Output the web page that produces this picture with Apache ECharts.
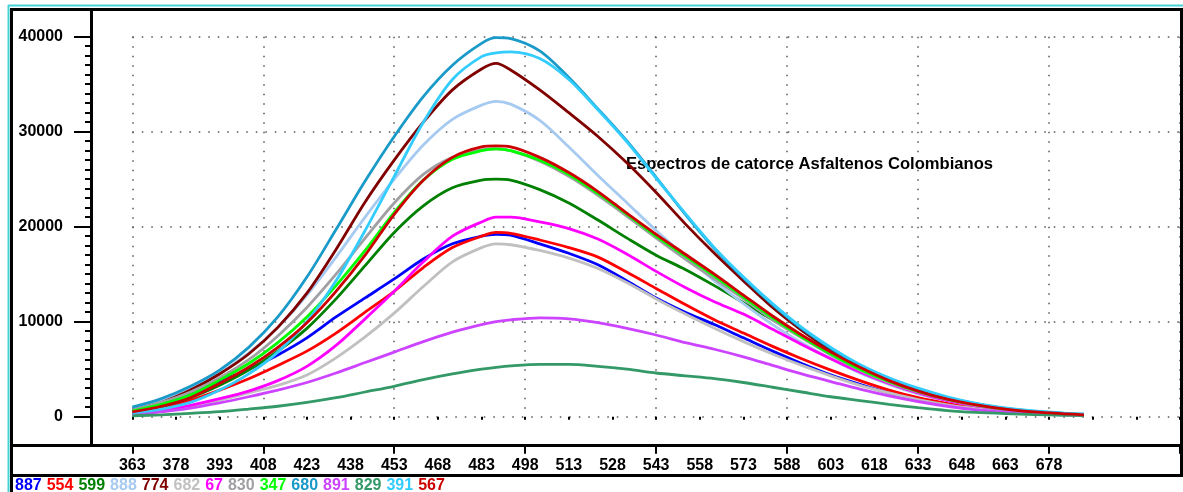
<!DOCTYPE html>
<html><head><meta charset="utf-8">
<script src="https://cdn.jsdelivr.net/npm/echarts@6/dist/echarts.min.js"></script>
<style>html,body{margin:0;padding:0;background:#fff}#c{width:1183px;height:492px}</style>
</head><body><div id="c"></div>
<script>
const chartTitle = 'Espectros de catorce Asfaltenos Colombianos';
const wavelengths = [363,373,383,393,403,413,423,433,443,453,463,473,483,488,493,503,513,523,533,543,553,563,573,583,593,603,613,623,633,643,653,663,673,683,690];
const seriesNames  = ['887','554','599','888','774','682','67','830','347','680','891','829','391','567'];
const seriesColors = ['#0000ff','#ff0000','#008000','#a6caf0','#800000','#c0c0c0','#ff00ff','#a0a0a4','#00ff00','#1a9ac8','#cc44ff','#339966','#33ccff','#cc0000'];
const xTickLabels = ['363','378','393','408','423','438','453','468','483','498','513','528','543','558','573','588','603','618','633','648','663','678'];

const s887 = [600,1300,2300,3700,5000,6500,8300,10500,12500,14500,16600,18200,19000,19200,19100,18200,17200,16000,14300,12500,11000,9700,8300,6900,5600,4400,3400,2500,1800,1250,850,560,360,240,170];
const s554 = [400,900,1700,2800,4000,5400,6900,8800,11000,13200,15700,17800,19000,19400,19300,18600,17800,16800,15200,13500,11800,10200,8800,7400,6100,4900,3800,2800,2000,1400,950,620,400,260,180];
const s599 = [500,1100,2000,3300,4900,6900,9300,12400,15900,19400,22200,24100,24900,25000,24900,23900,22500,20700,18800,17000,15500,13800,12000,10200,8500,6800,5300,4000,2900,2000,1350,850,520,320,220];
const s888 = [900,1700,3000,4600,6700,9400,12800,16800,21000,25000,28600,31300,32800,33200,32900,31200,28400,25400,22500,19600,16900,14300,11900,9700,7800,6100,4600,3400,2400,1700,1150,750,480,310,220];
const s774 = [700,1500,2800,4500,6600,9400,13000,17600,22600,27000,31000,34400,36600,37200,36500,34400,32000,29500,26700,23600,20300,17200,14300,11500,9100,7000,5200,3800,2700,1850,1250,800,500,320,230];
const s682 = [250,550,1000,1750,2500,3300,4400,6200,8400,10900,13700,16300,17800,18200,18100,17500,16700,15600,14100,12400,10800,9300,7900,6600,5400,4300,3300,2500,1800,1250,850,560,360,240,170];
const s67  = [300,700,1200,1900,2700,3800,5300,7500,10300,13200,16300,19000,20500,21000,21000,20500,19800,18700,17100,15300,13600,12100,10800,9200,7600,6100,4700,3500,2500,1700,1150,750,470,300,200];
const s830 = [700,1500,2600,4100,6000,8500,11500,15000,18800,22500,25500,27300,28100,28200,28000,26900,25300,23300,21100,18800,16600,14500,12400,10200,8300,6500,4900,3600,2600,1800,1200,780,480,300,200];
const s347 = [600,1300,2300,3850,5600,7800,10500,13800,17500,21500,24900,27100,28000,28200,28000,27000,25500,23500,21300,19000,16900,14800,12600,10400,8400,6600,5000,3700,2650,1850,1250,800,500,310,210];
const s680 = [1000,1900,3200,4900,7300,10500,14700,19700,24800,29500,33700,37000,39300,39900,39800,38500,35700,32400,29000,25200,21300,17700,14600,11800,9300,7200,5400,4000,2900,2000,1350,880,560,360,260];
const s891 = [200,500,900,1450,2100,2800,3600,4600,5700,6800,7900,8900,9700,10000,10200,10400,10300,9900,9300,8600,7800,7100,6300,5400,4500,3700,2900,2200,1600,1100,720,480,310,200,150];
const s829 = [100,200,350,530,800,1100,1500,2000,2600,3200,3900,4500,5000,5200,5350,5500,5500,5300,5000,4600,4300,4000,3600,3100,2600,2100,1700,1300,950,650,450,320,220,150,110];
const s391 = [400,800,1500,2800,4500,6800,10000,14300,19600,25300,31000,35500,37900,38300,38400,37700,35500,32300,28900,25100,21400,17800,14700,11900,9400,7300,5500,4100,3000,2100,1400,920,600,380,280];
const s567 = [500,1100,2000,3500,5200,7300,9900,13200,17000,21300,24900,27300,28400,28500,28400,27300,25700,23700,21400,19200,17100,15000,12800,10600,8600,6800,5200,3800,2700,1850,1250,800,500,310,200];

const seriesValues = [s887,s554,s599,s888,s774,s682,s67,s830,s347,s680,s891,s829,s391,s567];

const FONT = "'Liberation Sans', Arial, sans-serif";
const dotted = {type:[1.5,8], color:'#555', width:1.5};

const chart = echarts.init(document.getElementById('c'), null, {renderer:'canvas'});
const series = seriesNames.map((n,i)=>({
  name:n, type:'line', xAxisIndex:0, yAxisIndex:0,
  data: wavelengths.map((w,j)=>[w, seriesValues[i][j]]),
  showSymbol:false, symbol:'none', smooth:0.3,
  lineStyle:{width:2.8, color:seriesColors[i]},
  itemStyle:{color:seriesColors[i]},
  z: 2+i, animation:false
}));

const L = 10, R = 1183;
chart.setOption({
  animation:false,
  backgroundColor:'#fff',
  title:{text:chartTitle, left:626, top:156, padding:0,
    textStyle:{fontSize:16.6, fontWeight:'bold', color:'#000', fontFamily:FONT}},
  legend:{
    data: seriesNames.map((n,i)=>({name:n, textStyle:{color:seriesColors[i]}})),
    left:10, top:478, padding:0, itemGap:0, itemWidth:0, itemHeight:0, icon:'rect',
    selectedMode:false,
    textStyle:{fontSize:16, fontWeight:'bold', fontFamily:FONT}
  },
  grid:{left:132.3, right:2, top:36.7, bottom:75.3, containLabel:false},
  xAxis:[
    {type:'value', min:363, max:723, interval:15, position:'bottom', offset:29,
     axisLine:{show:false},
     axisTick:{show:true, length:3, lineStyle:{color:'#000', width:2}},
     axisLabel:{color:'#000', fontSize:16, fontWeight:'bold', fontFamily:FONT, margin:12,
       formatter: v => xTickLabels.includes(String(v)) ? String(v) : ''},
     splitLine:{show:false}},
    {type:'value', min:363, max:723, interval:45, position:'bottom', offset:29,
     axisLine:{show:false},
     axisTick:{show:true, length:8, lineStyle:{color:'#000', width:2}},
     axisLabel:{show:false},
     splitLine:{show:true, lineStyle:dotted}}
  ],
  yAxis:{type:'value', min:0, max:40000, interval:10000, offset:40.3,
    axisLine:{show:false},
    axisTick:{show:true, length:18, lineStyle:{color:'#000', width:2}},
    minorTick:{show:true, splitNumber:10, length:7, lineStyle:{color:'#000', width:2}},
    axisLabel:{color:'#000', fontSize:16, fontWeight:'bold', fontFamily:FONT, margin:29,
      formatter: v => String(v)},
    splitLine:{show:true, lineStyle:dotted}},
  graphic:[
    {type:'line', silent:true, z:100, shape:{x1:8.5,y1:5,x2:8.5,y2:492}, style:{stroke:'#46d2d2', lineWidth:2}},
    {type:'line', silent:true, z:100, shape:{x1:8,y1:5.5,x2:R,y2:5.5}, style:{stroke:'#46d2d2', lineWidth:2}},
    {type:'line', silent:true, z:100, shape:{x1:11.5,y1:8,x2:11.5,y2:492}, style:{stroke:'#000', lineWidth:3}},
    {type:'line', silent:true, z:100, shape:{x1:10,y1:9.5,x2:R,y2:9.5}, style:{stroke:'#000', lineWidth:3}},
    {type:'line', silent:true, z:100, shape:{x1:1181.5,y1:8,x2:1181.5,y2:477}, style:{stroke:'#000', lineWidth:3}},
    {type:'line', silent:true, z:100, shape:{x1:91.5,y1:9,x2:91.5,y2:446}, style:{stroke:'#000', lineWidth:3}},
    {type:'line', silent:true, z:100, shape:{x1:L,y1:445.5,x2:R,y2:445.5}, style:{stroke:'#000', lineWidth:3}},
    {type:'line', silent:true, z:100, shape:{x1:L,y1:475.5,x2:R,y2:475.5}, style:{stroke:'#000', lineWidth:3}}
  ],
  series: series
});
</script></body></html>
